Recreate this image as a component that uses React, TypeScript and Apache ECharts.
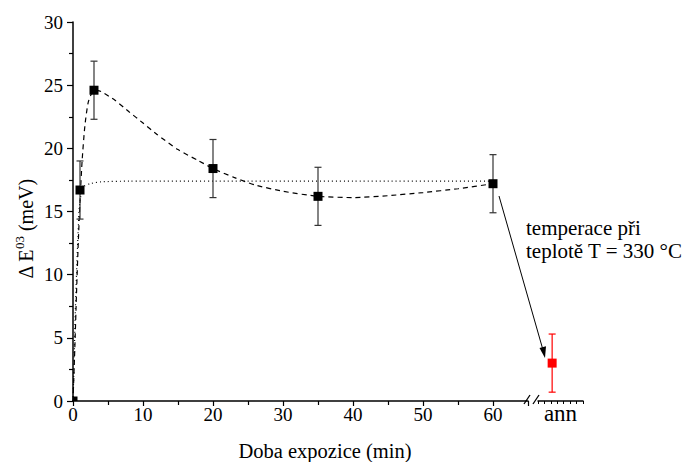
import React, { useEffect, useRef } from 'react';
import * as echarts from 'echarts';

// measured points
const timeMin = [0, 1, 3, 20, 35, 60];
const deltaE = [0, 16.7, 24.6, 18.4, 16.2, 17.2];
const errE = [0, 2.3, 2.3, 2.3, 2.3, 2.3];

// annealed sample (broken axis segment)
const annPos = [2.2];
const annValue = [3.0];
const annErr = [2.3];

// dashed fit curve
const dashedX = [0, 0.25, 0.5, 0.75, 1, 1.3, 1.7, 2.2, 3, 4, 6, 8, 10, 12, 15, 18, 20, 23, 26, 30, 35, 40, 45, 50, 55, 60];
const dashedY = [0, 4, 8.5, 12.5, 15.8, 19, 21.8, 23.7, 24.6, 24.5, 23.8, 22.9, 22.0, 21.1, 19.9, 19.0, 18.4, 17.7, 17.1, 16.6, 16.2, 16.1, 16.25, 16.5, 16.8, 17.2];

// dotted fit curve
const dottedX = [0, 0.15, 0.3, 0.5, 0.7, 0.9, 1.2, 1.6, 2.4, 4, 8, 20, 40, 60];
const dottedY = [0, 3, 6.5, 10, 13, 15.3, 16.5, 17.0, 17.2, 17.35, 17.4, 17.4, 17.4, 17.4];

const FONT = 'Liberation Serif';

function errorBarItem(color: string) {
  return (params: any, api: any) => {
    const x = api.value(0), y = api.value(1), e = api.value(2);
    if (!e) return { type: 'group', children: [] };
    const top = api.coord([x, y + e]);
    const bot = api.coord([x, y - e]);
    const h = 3.5;
    const style = { stroke: color, lineWidth: 1.2 };
    return {
      type: 'group',
      children: [
        { type: 'line', shape: { x1: top[0], y1: top[1], x2: bot[0], y2: bot[1] }, style },
        { type: 'line', shape: { x1: top[0] - h, y1: top[1], x2: top[0] + h, y2: top[1] }, style },
        { type: 'line', shape: { x1: bot[0] - h, y1: bot[1], x2: bot[0] + h, y2: bot[1] }, style },
      ],
    };
  };
}

function markerItem(color: string) {
  return (params: any, api: any) => {
    const c = api.coord([api.value(0), api.value(1)]);
    const cs = params.coordSys;
    const s = 4.5;
    const x0 = Math.max(c[0] - s, cs.x);
    const x1 = Math.min(c[0] + s, cs.x + cs.width);
    const y0 = Math.max(c[1] - s, cs.y);
    const y1 = Math.min(c[1] + s, cs.y + cs.height);
    return {
      type: 'rect',
      shape: { x: x0, y: y0, width: Math.max(0, x1 - x0), height: Math.max(0, y1 - y0) },
      style: { fill: color },
    };
  };
}

export default function App() {
  const ref = useRef<HTMLDivElement>(null);
  useEffect(() => {
    if (!ref.current) return;
    const chart = echarts.init(ref.current, undefined, { renderer: 'svg' });
    const pts = timeMin.map((t, i) => [t, deltaE[i], errE[i]]);
    const annPts = annPos.map((p, i) => [p, annValue[i], annErr[i]]);
    const axisLineStyle = { color: '#000', width: 1.5 };
    const option: any = {
      animation: false,
      backgroundColor: '#fff',
      textStyle: { fontFamily: FONT },
      grid: [
        { left: 73, top: 22, width: 455, height: 379 },
        { left: 538, top: 22, width: 45, height: 379 },
      ],
      xAxis: [
        {
          type: 'value', gridIndex: 0, min: 0, max: 65, interval: 10,
          axisLine: { show: true, lineStyle: axisLineStyle },
          axisTick: { show: true, length: 5, lineStyle: { color: '#000', width: 1.2 } },
          minorTick: { show: true, splitNumber: 2, length: 4, lineStyle: { color: '#000', width: 1.2 } },
          axisLabel: { fontFamily: FONT, fontSize: 19, color: '#000', margin: 4, formatter: (v: number) => (v <= 60 ? String(v) : '') },
          splitLine: { show: false },
        },
        {
          type: 'value', gridIndex: 1, min: 0, max: 7, interval: 1,
          axisLine: { show: true, lineStyle: axisLineStyle },
          axisTick: { show: true, length: 3, lineStyle: { color: '#000', width: 1 } },
          axisLabel: { show: false },
          splitLine: { show: false },
          name: 'ann', nameLocation: 'middle', nameGap: 1,
          nameTextStyle: { fontFamily: FONT, fontSize: 23, color: '#000' },
        },
      ],
      yAxis: [
        {
          type: 'value', gridIndex: 0, min: 0, max: 30, interval: 5,
          axisLine: { show: true, lineStyle: axisLineStyle },
          axisTick: { show: true, length: 6, lineStyle: { color: '#000', width: 1.2 } },
          minorTick: { show: true, splitNumber: 2, length: 4, lineStyle: { color: '#000', width: 1.2 } },
          axisLabel: { fontFamily: FONT, fontSize: 19, color: '#000', margin: 10 },
          splitLine: { show: false },
        },
        { type: 'value', gridIndex: 1, min: 0, max: 30, show: false },
      ],
      series: [
        {
          type: 'line', xAxisIndex: 0, yAxisIndex: 0, symbol: 'none', smooth: 0.2, z: 2,
          data: dashedX.map((x, i) => [x, dashedY[i]]),
          lineStyle: { color: '#000', width: 1.2, type: [5, 4] },
        },
        {
          type: 'line', xAxisIndex: 0, yAxisIndex: 0, symbol: 'none', smooth: 0.2, z: 2,
          data: dottedX.map((x, i) => [x, dottedY[i]]),
          lineStyle: { color: '#000', width: 1.2, type: [1, 3] },
        },
        {
          type: 'custom', xAxisIndex: 0, yAxisIndex: 0, z: 3, clip: false,
          renderItem: errorBarItem('#333'), data: pts,
        },
        {
          type: 'custom', xAxisIndex: 0, yAxisIndex: 0, z: 4, clip: false,
          renderItem: markerItem('#000'), data: pts,
        },
        {
          type: 'custom', xAxisIndex: 1, yAxisIndex: 1, z: 3, clip: false,
          renderItem: errorBarItem('#f00'), data: annPts,
        },
        {
          type: 'custom', xAxisIndex: 1, yAxisIndex: 1, z: 4, clip: false,
          renderItem: markerItem('#f00'), data: annPts,
        },
      ],
      graphic: [
        // axis break marks
        { type: 'line', shape: { x1: 524, y1: 404, x2: 530, y2: 395 }, style: { stroke: '#000', lineWidth: 1.3 } },
        { type: 'line', shape: { x1: 533, y1: 404, x2: 539, y2: 395 }, style: { stroke: '#000', lineWidth: 1.3 } },
        // axis titles
        {
          type: 'text', x: 325, y: 451,
          style: { text: 'Doba expozice (min)', fontFamily: FONT, fontSize: 20.5, fill: '#000', align: 'center', verticalAlign: 'middle' },
        },
        {
          type: 'text', x: 24, y: 229, rotation: Math.PI / 2,
          style: {
            text: '{a|Δ E}{s|03}{a| (meV)}',
            align: 'center', verticalAlign: 'middle', fill: '#000',
            fontFamily: FONT,
            rich: {
              a: { fontFamily: FONT, fontSize: 20, lineHeight: 23, verticalAlign: 'bottom', fill: '#000' },
              s: { fontFamily: FONT, fontSize: 13, lineHeight: 23, verticalAlign: 'top', fill: '#000' },
            },
          },
        },
        // annotation
        { type: 'line', shape: { x1: 499, y1: 196, x2: 543, y2: 350 }, style: { stroke: '#000', lineWidth: 1 } },
        { type: 'polygon', shape: { points: [[545, 358], [539.5, 348], [546, 346.2]] }, style: { fill: '#000' } },
        {
          type: 'text', x: 526, y: 228,
          style: { text: 'temperace při', fontFamily: FONT, fontSize: 21, fill: '#000', align: 'left', verticalAlign: 'middle' },
        },
        {
          type: 'text', x: 526, y: 251,
          style: { text: 'teplotě T = 330 °C', fontFamily: FONT, fontSize: 21, fill: '#000', align: 'left', verticalAlign: 'middle' },
        },
      ],
    };
    chart.setOption(option);
    return () => chart.dispose();
  }, []);
  return <div ref={ref} style={{ position: 'fixed', left: 0, top: 0, width: 682, height: 462 }} />;
}
